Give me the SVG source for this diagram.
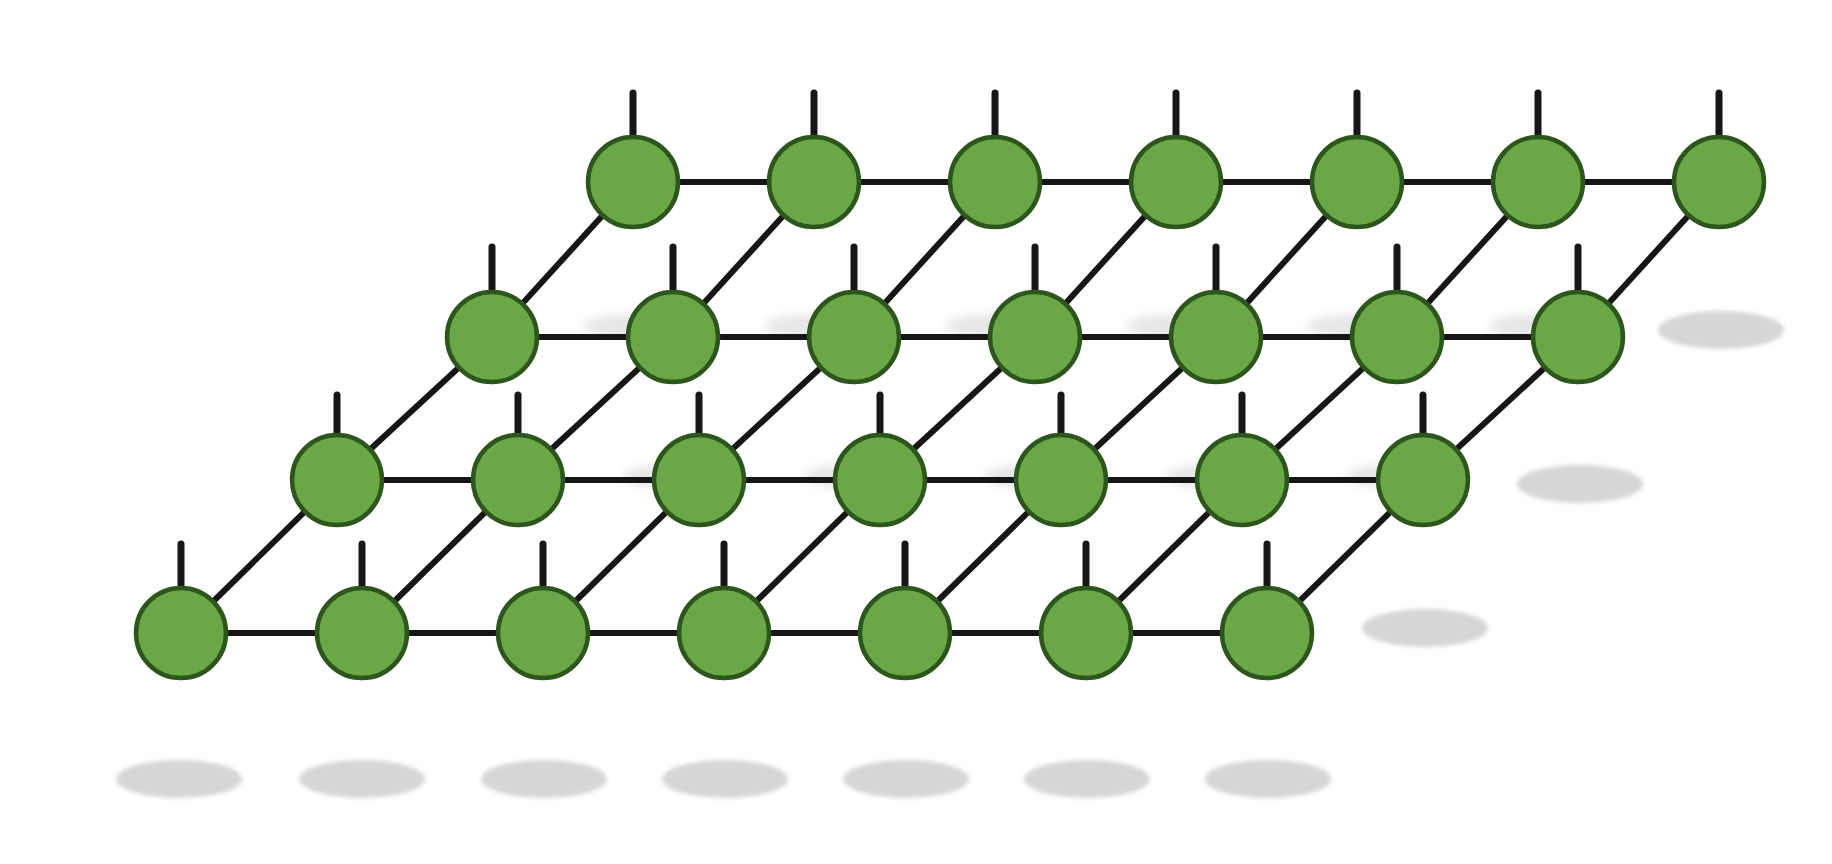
<svg xmlns="http://www.w3.org/2000/svg" width="1832" height="864" viewBox="0 0 1832 864">
<defs>
<filter id="blur" x="-20%" y="-50%" width="140%" height="200%"><feGaussianBlur stdDeviation="2"/></filter>
<filter id="blur2" x="-30%" y="-80%" width="160%" height="260%"><feGaussianBlur stdDeviation="5"/></filter>
<style>
.sh{fill:#d6d6d6;filter:url(#blur)}
.sf{fill:#e6e6e6;filter:url(#blur2)}
.ln{stroke:#161616;stroke-width:6;stroke-linecap:round;fill:none}
.st{stroke:#161616;stroke-width:7;stroke-linecap:round}
.nd{fill:#6aa746;stroke:#2c561b;stroke-width:4.5}
</style>
</defs>
<rect width="1832" height="864" fill="#ffffff"/>
<g id="shadows">
<ellipse class="sf" cx="633" cy="326" rx="50" ry="12"/><ellipse class="sf" cx="814" cy="326" rx="50" ry="12"/><ellipse class="sf" cx="995" cy="326" rx="50" ry="12"/><ellipse class="sf" cx="1176" cy="326" rx="50" ry="12"/><ellipse class="sf" cx="1357" cy="326" rx="50" ry="12"/><ellipse class="sf" cx="1538" cy="326" rx="50" ry="12"/>
<ellipse class="sh" cx="1721" cy="330" rx="63" ry="19"/>
<ellipse class="sf" cx="673" cy="476" rx="50" ry="12"/><ellipse class="sf" cx="854" cy="476" rx="50" ry="12"/><ellipse class="sf" cx="1035" cy="476" rx="50" ry="12"/><ellipse class="sf" cx="1216" cy="476" rx="50" ry="12"/><ellipse class="sf" cx="1397" cy="476" rx="50" ry="12"/>
<ellipse class="sh" cx="1580" cy="484" rx="63" ry="19"/>
<ellipse class="sh" cx="1425" cy="628" rx="63" ry="19"/>
<ellipse class="sh" cx="179" cy="779" rx="63" ry="19"/><ellipse class="sh" cx="362" cy="779" rx="63" ry="19"/><ellipse class="sh" cx="544" cy="779" rx="63" ry="19"/><ellipse class="sh" cx="725" cy="779" rx="63" ry="19"/><ellipse class="sh" cx="906" cy="779" rx="63" ry="19"/><ellipse class="sh" cx="1087" cy="779" rx="63" ry="19"/><ellipse class="sh" cx="1268" cy="779" rx="63" ry="19"/>
</g>
<g id="connectors">
<line class="ln" x1="633" y1="182" x2="1719" y2="182"/>
<line class="ln" x1="492" y1="337" x2="1578" y2="337"/>
<line class="ln" x1="337" y1="480" x2="1423" y2="480"/>
<line class="ln" x1="181" y1="633" x2="1267" y2="633"/>
<polyline class="ln" points="181,633 337,480 492,337 633,182"/>
<polyline class="ln" points="362,633 518,480 673,337 814,182"/>
<polyline class="ln" points="543,633 699,480 854,337 995,182"/>
<polyline class="ln" points="724,633 880,480 1035,337 1176,182"/>
<polyline class="ln" points="905,633 1061,480 1216,337 1357,182"/>
<polyline class="ln" points="1086,633 1242,480 1397,337 1538,182"/>
<polyline class="ln" points="1267,633 1423,480 1578,337 1719,182"/>
<line class="st" x1="633" y1="93" x2="633" y2="140"/><line class="st" x1="814" y1="93" x2="814" y2="140"/><line class="st" x1="995" y1="93" x2="995" y2="140"/><line class="st" x1="1176" y1="93" x2="1176" y2="140"/><line class="st" x1="1357" y1="93" x2="1357" y2="140"/><line class="st" x1="1538" y1="93" x2="1538" y2="140"/><line class="st" x1="1719" y1="93" x2="1719" y2="140"/>
<line class="st" x1="492" y1="247" x2="492" y2="295"/><line class="st" x1="673" y1="247" x2="673" y2="295"/><line class="st" x1="854" y1="247" x2="854" y2="295"/><line class="st" x1="1035" y1="247" x2="1035" y2="295"/><line class="st" x1="1216" y1="247" x2="1216" y2="295"/><line class="st" x1="1397" y1="247" x2="1397" y2="295"/><line class="st" x1="1578" y1="247" x2="1578" y2="295"/>
<line class="st" x1="337" y1="395" x2="337" y2="438"/><line class="st" x1="518" y1="395" x2="518" y2="438"/><line class="st" x1="699" y1="395" x2="699" y2="438"/><line class="st" x1="880" y1="395" x2="880" y2="438"/><line class="st" x1="1061" y1="395" x2="1061" y2="438"/><line class="st" x1="1242" y1="395" x2="1242" y2="438"/><line class="st" x1="1423" y1="395" x2="1423" y2="438"/>
<line class="st" x1="181" y1="544" x2="181" y2="590"/><line class="st" x1="362" y1="544" x2="362" y2="590"/><line class="st" x1="543" y1="544" x2="543" y2="590"/><line class="st" x1="724" y1="544" x2="724" y2="590"/><line class="st" x1="905" y1="544" x2="905" y2="590"/><line class="st" x1="1086" y1="544" x2="1086" y2="590"/><line class="st" x1="1267" y1="544" x2="1267" y2="590"/>
</g>
<g id="row0">
<g id="n0-0"><circle class="nd" cx="633" cy="182" r="45"/></g>
<g id="n0-1"><circle class="nd" cx="814" cy="182" r="45"/></g>
<g id="n0-2"><circle class="nd" cx="995" cy="182" r="45"/></g>
<g id="n0-3"><circle class="nd" cx="1176" cy="182" r="45"/></g>
<g id="n0-4"><circle class="nd" cx="1357" cy="182" r="45"/></g>
<g id="n0-5"><circle class="nd" cx="1538" cy="182" r="45"/></g>
<g id="n0-6"><circle class="nd" cx="1719" cy="182" r="45"/></g>
</g>
<g id="row1">
<g id="n1-0"><circle class="nd" cx="492" cy="337" r="45"/></g>
<g id="n1-1"><circle class="nd" cx="673" cy="337" r="45"/></g>
<g id="n1-2"><circle class="nd" cx="854" cy="337" r="45"/></g>
<g id="n1-3"><circle class="nd" cx="1035" cy="337" r="45"/></g>
<g id="n1-4"><circle class="nd" cx="1216" cy="337" r="45"/></g>
<g id="n1-5"><circle class="nd" cx="1397" cy="337" r="45"/></g>
<g id="n1-6"><circle class="nd" cx="1578" cy="337" r="45"/></g>
</g>
<g id="row2">
<g id="n2-0"><circle class="nd" cx="337" cy="480" r="45"/></g>
<g id="n2-1"><circle class="nd" cx="518" cy="480" r="45"/></g>
<g id="n2-2"><circle class="nd" cx="699" cy="480" r="45"/></g>
<g id="n2-3"><circle class="nd" cx="880" cy="480" r="45"/></g>
<g id="n2-4"><circle class="nd" cx="1061" cy="480" r="45"/></g>
<g id="n2-5"><circle class="nd" cx="1242" cy="480" r="45"/></g>
<g id="n2-6"><circle class="nd" cx="1423" cy="480" r="45"/></g>
</g>
<g id="row3">
<g id="n3-0"><circle class="nd" cx="181" cy="633" r="45"/></g>
<g id="n3-1"><circle class="nd" cx="362" cy="633" r="45"/></g>
<g id="n3-2"><circle class="nd" cx="543" cy="633" r="45"/></g>
<g id="n3-3"><circle class="nd" cx="724" cy="633" r="45"/></g>
<g id="n3-4"><circle class="nd" cx="905" cy="633" r="45"/></g>
<g id="n3-5"><circle class="nd" cx="1086" cy="633" r="45"/></g>
<g id="n3-6"><circle class="nd" cx="1267" cy="633" r="45"/></g>
</g>
</svg>
